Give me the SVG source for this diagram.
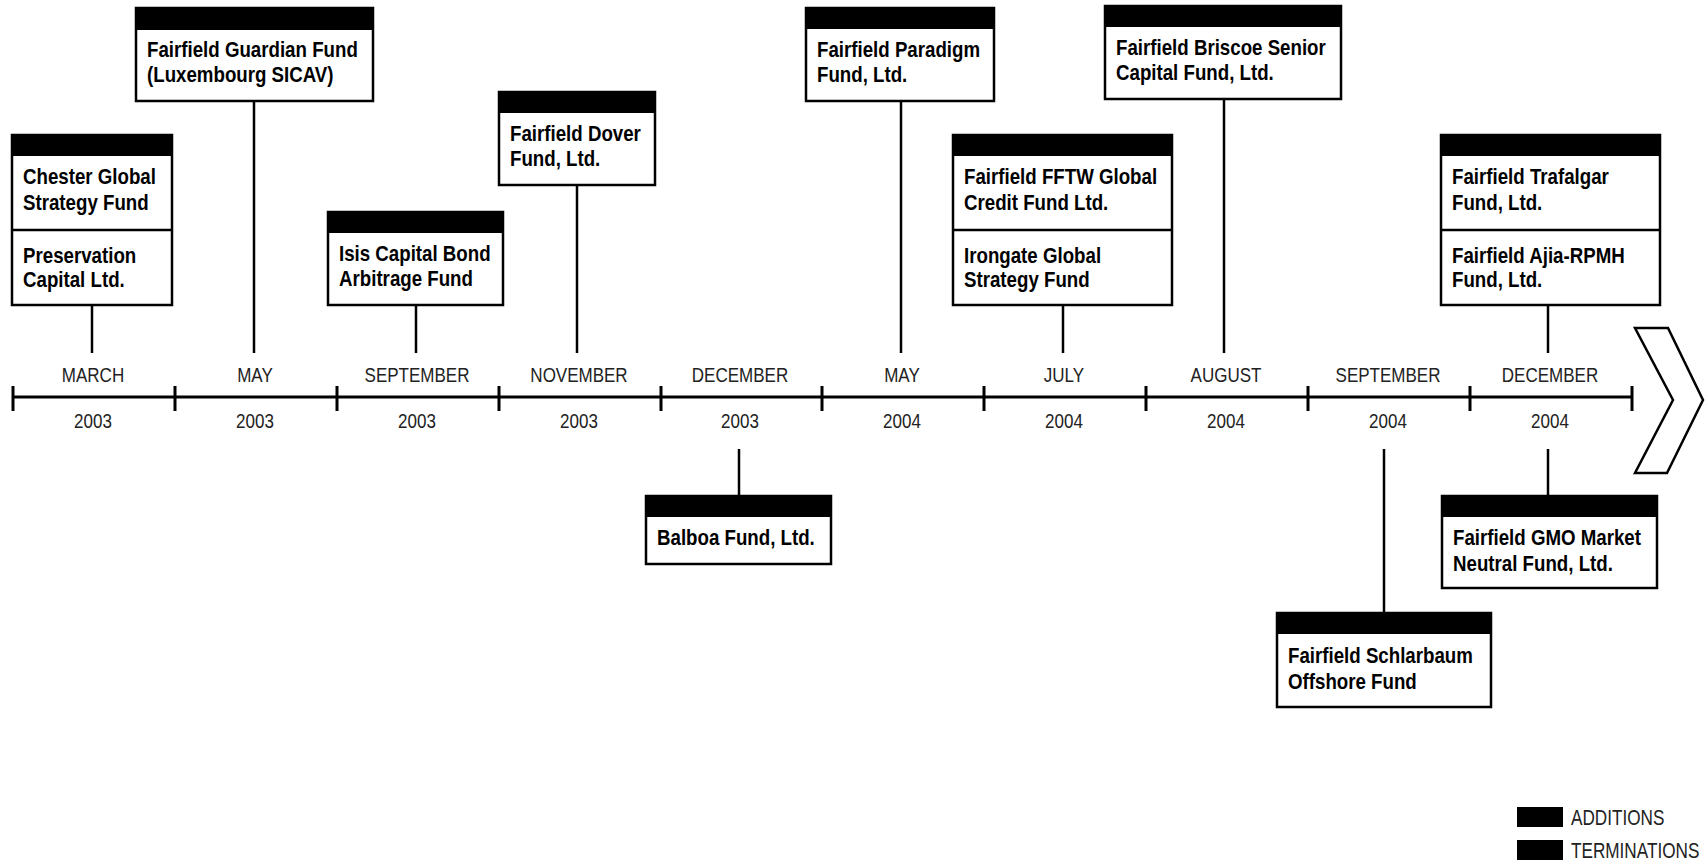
<svg xmlns="http://www.w3.org/2000/svg" width="1705" height="862" viewBox="0 0 1705 862">
<style>
.box{fill:#fff;stroke:#000;stroke-width:2.5}
.bar{fill:#000}
.div{stroke:#000;stroke-width:2.5}
.lbl{font-family:"Liberation Sans",Arial,sans-serif;font-weight:bold;font-size:22px;fill:#000}
.mon{font-family:"Liberation Sans",Arial,sans-serif;font-size:21px;fill:#222;text-anchor:middle}
.leg{font-family:"Liberation Sans",Arial,sans-serif;font-size:22px;fill:#222}
.con{stroke:#000;stroke-width:2.5;fill:none}
.axis{stroke:#000;stroke-width:3;fill:none}
</style>
<rect width="1705" height="862" fill="#fff"/>
<g id="connectors">
<line class="con" x1="92" y1="305" x2="92" y2="353"/>
<line class="con" x1="254" y1="101" x2="254" y2="353"/>
<line class="con" x1="416" y1="305" x2="416" y2="353"/>
<line class="con" x1="577" y1="185" x2="577" y2="353"/>
<line class="con" x1="739" y1="449" x2="739" y2="496"/>
<line class="con" x1="901" y1="101" x2="901" y2="353"/>
<line class="con" x1="1063" y1="305" x2="1063" y2="353"/>
<line class="con" x1="1224" y1="99" x2="1224" y2="353"/>
<line class="con" x1="1384" y1="449" x2="1384" y2="613"/>
<line class="con" x1="1548" y1="305" x2="1548" y2="353"/>
<line class="con" x1="1548" y1="449" x2="1548" y2="496"/>
</g>
<g id="timeline">
<line class="axis" x1="13" y1="397" x2="1632" y2="397"/>
<path class="axis" d="M13 386V411M175 386V411M337 386V411M499 386V411M661 386V411M822 386V411M984 386V411M1146 386V411M1308 386V411M1470 386V411M1632 386V411"/>
<g class="mon">
<text transform="matrix(0.81 0 0 1 93 382)">MARCH</text><text transform="matrix(0.81 0 0 1 93 428)">2003</text>
<text transform="matrix(0.81 0 0 1 255 382)">MAY</text><text transform="matrix(0.81 0 0 1 255 428)">2003</text>
<text transform="matrix(0.81 0 0 1 417 382)">SEPTEMBER</text><text transform="matrix(0.81 0 0 1 417 428)">2003</text>
<text transform="matrix(0.81 0 0 1 579 382)">NOVEMBER</text><text transform="matrix(0.81 0 0 1 579 428)">2003</text>
<text transform="matrix(0.81 0 0 1 740 382)">DECEMBER</text><text transform="matrix(0.81 0 0 1 740 428)">2003</text>
<text transform="matrix(0.81 0 0 1 902 382)">MAY</text><text transform="matrix(0.81 0 0 1 902 428)">2004</text>
<text transform="matrix(0.81 0 0 1 1064 382)">JULY</text><text transform="matrix(0.81 0 0 1 1064 428)">2004</text>
<text transform="matrix(0.81 0 0 1 1226 382)">AUGUST</text><text transform="matrix(0.81 0 0 1 1226 428)">2004</text>
<text transform="matrix(0.81 0 0 1 1388 382)">SEPTEMBER</text><text transform="matrix(0.81 0 0 1 1388 428)">2004</text>
<text transform="matrix(0.81 0 0 1 1550 382)">DECEMBER</text><text transform="matrix(0.81 0 0 1 1550 428)">2004</text>
</g>
<polygon id="chevron" points="1635,328 1668,328 1703,400 1667,473 1635,473 1673,400" fill="#fff" stroke="#000" stroke-width="2.5"/>
</g>
<g id="n-chester">
<rect class="box" x="12" y="135" width="160" height="170"/>
<rect class="bar" x="12" y="135" width="160" height="21"/>
<line class="div" x1="12" y1="230" x2="172" y2="230"/>
<text class="lbl" transform="matrix(0.85 0 0 1 23 184)">Chester Global</text>
<text class="lbl" transform="matrix(0.85 0 0 1 23 210)">Strategy Fund</text>
<text class="lbl" transform="matrix(0.85 0 0 1 23 263)">Preservation</text>
<text class="lbl" transform="matrix(0.85 0 0 1 23 287)">Capital Ltd.</text>
</g>
<g id="n-guardian">
<rect class="box" x="136" y="8" width="237" height="93"/>
<rect class="bar" x="136" y="8" width="237" height="22"/>
<text class="lbl" transform="matrix(0.85 0 0 1 147 57)">Fairfield Guardian Fund</text>
<text class="lbl" transform="matrix(0.85 0 0 1 147 82)">(Luxembourg SICAV)</text>
</g>
<g id="n-isis">
<rect class="box" x="328" y="212" width="175" height="93"/>
<rect class="bar" x="328" y="212" width="175" height="21"/>
<text class="lbl" transform="matrix(0.85 0 0 1 339 261)">Isis Capital Bond</text>
<text class="lbl" transform="matrix(0.85 0 0 1 339 286)">Arbitrage Fund</text>
</g>
<g id="n-dover">
<rect class="box" x="499" y="92" width="156" height="93"/>
<rect class="bar" x="499" y="92" width="156" height="21"/>
<text class="lbl" transform="matrix(0.85 0 0 1 510 141)">Fairfield Dover</text>
<text class="lbl" transform="matrix(0.85 0 0 1 510 166)">Fund, Ltd.</text>
</g>
<g id="n-balboa">
<rect class="box" x="646" y="496" width="185" height="68"/>
<rect class="bar" x="646" y="496" width="185" height="21"/>
<text class="lbl" transform="matrix(0.85 0 0 1 657 545)">Balboa Fund, Ltd.</text>
</g>
<g id="n-paradigm">
<rect class="box" x="806" y="8" width="188" height="93"/>
<rect class="bar" x="806" y="8" width="188" height="21"/>
<text class="lbl" transform="matrix(0.85 0 0 1 817 57)">Fairfield Paradigm</text>
<text class="lbl" transform="matrix(0.85 0 0 1 817 82)">Fund, Ltd.</text>
</g>
<g id="n-fftw">
<rect class="box" x="953" y="135" width="219" height="170"/>
<rect class="bar" x="953" y="135" width="219" height="21"/>
<line class="div" x1="953" y1="230" x2="1172" y2="230"/>
<text class="lbl" transform="matrix(0.85 0 0 1 964 184)">Fairfield FFTW Global</text>
<text class="lbl" transform="matrix(0.85 0 0 1 964 210)">Credit Fund Ltd.</text>
<text class="lbl" transform="matrix(0.85 0 0 1 964 263)">Irongate Global</text>
<text class="lbl" transform="matrix(0.85 0 0 1 964 287)">Strategy Fund</text>
</g>
<g id="n-briscoe">
<rect class="box" x="1105" y="6" width="236" height="93"/>
<rect class="bar" x="1105" y="6" width="236" height="21"/>
<text class="lbl" transform="matrix(0.85 0 0 1 1116 55)">Fairfield Briscoe Senior</text>
<text class="lbl" transform="matrix(0.85 0 0 1 1116 80)">Capital Fund, Ltd.</text>
</g>
<g id="n-schlarbaum">
<rect class="box" x="1277" y="613" width="214" height="94"/>
<rect class="bar" x="1277" y="613" width="214" height="21"/>
<text class="lbl" transform="matrix(0.85 0 0 1 1288 663)">Fairfield Schlarbaum</text>
<text class="lbl" transform="matrix(0.85 0 0 1 1288 689)">Offshore Fund</text>
</g>
<g id="n-trafalgar">
<rect class="box" x="1441" y="135" width="219" height="170"/>
<rect class="bar" x="1441" y="135" width="219" height="21"/>
<line class="div" x1="1441" y1="230" x2="1660" y2="230"/>
<text class="lbl" transform="matrix(0.85 0 0 1 1452 184)">Fairfield Trafalgar</text>
<text class="lbl" transform="matrix(0.85 0 0 1 1452 210)">Fund, Ltd.</text>
<text class="lbl" transform="matrix(0.85 0 0 1 1452 263)">Fairfield Ajia-RPMH</text>
<text class="lbl" transform="matrix(0.85 0 0 1 1452 287)">Fund, Ltd.</text>
</g>
<g id="n-gmo">
<rect class="box" x="1442" y="496" width="215" height="92"/>
<rect class="bar" x="1442" y="496" width="215" height="21"/>
<text class="lbl" transform="matrix(0.85 0 0 1 1453 545)">Fairfield GMO Market</text>
<text class="lbl" transform="matrix(0.85 0 0 1 1453 571)">Neutral Fund, Ltd.</text>
</g>
<g id="legend">
<rect x="1517" y="807" width="46" height="20" fill="#000"/>
<text class="leg" transform="matrix(0.78 0 0 1 1571 825)">ADDITIONS</text>
<rect x="1517" y="840" width="46" height="20" fill="#000"/>
<text class="leg" transform="matrix(0.78 0 0 1 1571 858)">TERMINATIONS</text>
</g>
</svg>
